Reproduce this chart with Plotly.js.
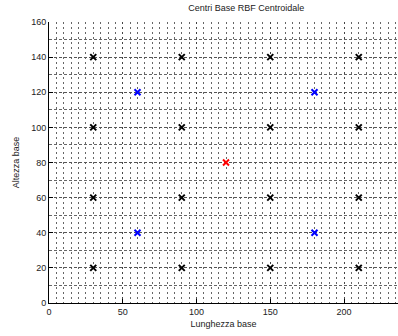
<!DOCTYPE html>
<html><head><meta charset="utf-8">
<script src="https://cdn.plot.ly/plotly-3.0.1.min.js"></script>
<style>html,body{margin:0;padding:0;background:#fff}#chart{width:398px;height:336px}</style>
</head><body><div id="chart"></div>
<script>
// Black centres (grid of base RBF centres)
const blackX = [30, 90, 150, 210, 30, 90, 150, 210, 30, 90, 150, 210, 30, 90, 150, 210];
const blackY = [20, 20, 20, 20, 60, 60, 60, 60, 100, 100, 100, 100, 140, 140, 140, 140];
// Blue centres
const blueX = [60, 180, 60, 180];
const blueY = [40, 40, 120, 120];
// Red centre (centroid)
const redX = [120];
const redY = [80];

const xTicks = [0, 50, 100, 150, 200];
const yTicks = [0, 20, 40, 60, 80, 100, 120, 140, 160];

const titleText = 'Centri Base RBF Centroidale';
const xTitle = 'Lunghezza base';
const yTitle = 'Altezza base';

const mk = (x, y, c) => ({
  x: x, y: y, type: 'scatter', mode: 'markers', hoverinfo: 'skip',
  marker: {symbol: 'x-thin', size: 6, color: c, line: {color: c, width: 2}}
});

const data = [mk(blackX, blackY, '#000000'), mk(blueX, blueY, '#0000ff'), mk(redX, redY, '#ff0000')];

const font = {family: 'Liberation Sans, Arial, sans-serif', size: 9, color: '#222'};

const layout = {
  width: 398, height: 336,
  margin: {l: 49, r: 0, t: 22, b: 33},
  paper_bgcolor: '#fff', plot_bgcolor: '#fff',
  showlegend: false,
  font: font,
  title: {text: titleText, font: {family: font.family, size: 9, color: '#222'},
          x: 225/398, xref: 'paper', xanchor: 'center', y: 1 - 8/336, yanchor: 'middle'},
  xaxis: {
    range: [0, 236.6], autorange: false,
    tickvals: xTicks, ticktext: xTicks.map(String),
    ticks: 'inside', ticklen: 4, tickcolor: '#000',
    showline: true, linecolor: '#000', linewidth: 1, mirror: false,
    showgrid: true, gridcolor: '#444', griddash: '2px,3px', gridwidth: 1,
    minor: {dtick: 5, showgrid: true, gridcolor: '#666', griddash: '2px,3px', gridwidth: 1, ticks: ''},
    zeroline: false,
    tickfont: font,
    title: {text: xTitle, font: font, standoff: 4}
  },
  yaxis: {
    range: [0, 160], autorange: false,
    tickvals: yTicks, ticktext: yTicks.map(String),
    ticks: 'inside', ticklen: 4, tickcolor: '#000',
    showline: true, linecolor: '#000', linewidth: 1, mirror: false,
    showgrid: true, gridcolor: '#555', griddash: '3px,2px', gridwidth: 1,
    minor: {dtick: 10, showgrid: true, gridcolor: '#666', griddash: '3px,2px', gridwidth: 1, ticks: ''},
    zeroline: false,
    tickfont: font,
    title: {text: yTitle, font: font, standoff: 10}
  }
};

Plotly.newPlot('chart', data, layout, {staticPlot: true, displayModeBar: false});
</script></body></html>
